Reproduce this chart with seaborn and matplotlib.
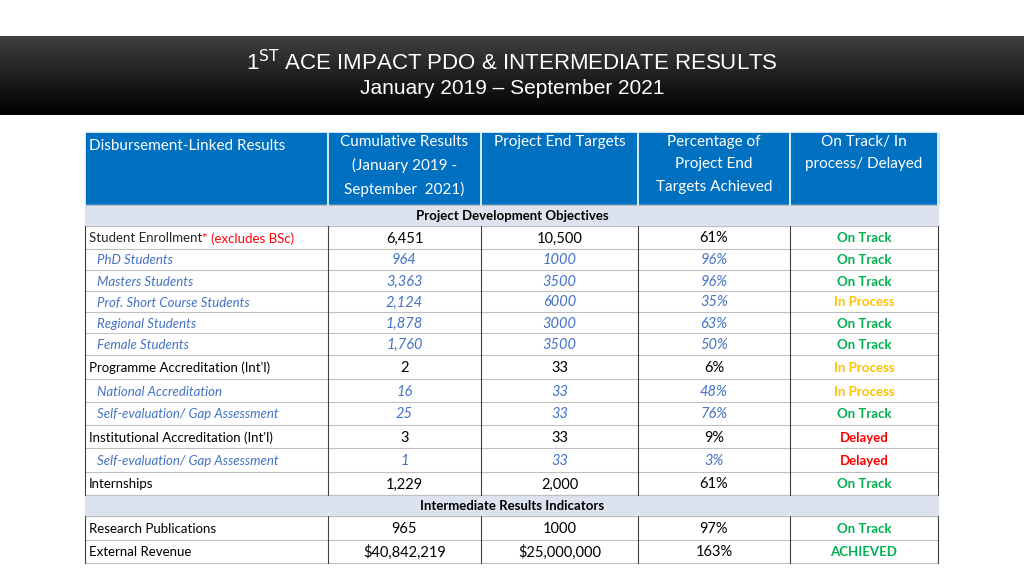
import numpy as np
import matplotlib.pyplot as plt
import seaborn as sns

sns.set_theme(style="white")

# table data
labels = ["Student Enrollment", "PhD Students", "Masters Students", "Prof. Short Course Students",
          "Regional Students", "Female Students", "Programme Accreditation (Int'l)",
          "National Accreditation", "Self-evaluation/ Gap Assessment",
          "Institutional Accreditation (Int'l)", "Self-evaluation/ Gap Assessment",
          "Internships", "Research Publications", "External Revenue"]
sub_row = [False, True, True, True, True, True, False, True, True, False, True, False, False, False]
cumulative = ["6,451", "964", "3,363", "2,124", "1,878", "1,760", "2", "16", "25", "3", "1",
              "1,229", "965", "$40,842,219"]
targets = ["10,500", "1000", "3500", "6000", "3000", "3500", "33", "33", "33", "33", "33",
           "2,000", "1000", "$25,000,000"]
pct = ["61%", "96%", "96%", "35%", "63%", "50%", "6%", "48%", "76%", "9%", "3%", "61%", "97%", "163%"]
status = ["On Track", "On Track", "On Track", "In Process", "On Track", "On Track", "In Process",
          "In Process", "On Track", "Delayed", "Delayed", "On Track", "On Track", "ACHIEVED"]
headers = ["Disbursement-Linked Results", "Cumulative Results\n(January 2019 -\nSeptember  2021)",
           "Project End Targets", "Percentage of\nProject End\nTargets Achieved",
           "On Track/ In\nprocess/ Delayed"]
sections = ["Project Development Objectives", "Intermediate Results Indicators"]

status_col = {"On Track": "#00B050", "In Process": "#FFC000", "Delayed": "#FF0000",
              "ACHIEVED": "#00B050"}
FONT = "Lato"
BLUE = "#0070C0"
SUB = "#4472C4"

fig = plt.figure(figsize=(10.24, 5.76), dpi=100)
ax = fig.add_axes([0, 0, 1, 1])
ax.set_xlim(0, 1024)
ax.set_ylim(576, 0)
ax.axis("off")

# title band with gradient
grad = np.linspace(0.25, 0.0, 100).reshape(-1, 1)
ax.imshow(grad, extent=[0, 1024, 115, 36], cmap="gray", vmin=0, vmax=1, aspect="auto")
ax.text(512, 63, r"1$^{\mathrm{ST}}$ ACE IMPACT PDO & INTERMEDIATE RESULTS", color="white",
        ha="center", va="center", fontsize=16, family="Liberation Sans")
ax.text(512, 88, "January 2019 \u2013 September 2021", color="white", ha="center", va="center",
        fontsize=15, family="Liberation Sans")

cols = [85, 328, 481, 638, 790, 938]
# header
ax.add_patch(plt.Rectangle((85, 133), 853, 72, color=BLUE, zorder=1))
for i, h in enumerate(headers):
    if i == 0:
        ax.text(89, 146, h, color="white", ha="left", va="center", fontsize=11, family=FONT)
    else:
        xc = (cols[i] + cols[i + 1]) / 2
        ax.text(xc, 135, h, color="white", ha="center", va="top", fontsize=11, family=FONT,
                linespacing=1.75)

# row geometry
sec_rows = [(205, 226), (495, 516)]
row_bounds = [(226, 249), (249, 270), (270, 291), (291, 312), (312, 333), (333, 355),
              (355, 379), (379, 402), (402, 425), (425, 448), (448, 472), (472, 495),
              (516, 540), (540, 563)]

for (y0, y1), s in zip(sec_rows, sections):
    ax.add_patch(plt.Rectangle((85, y0), 853, y1 - y0, color="#DCE3EF", zorder=1))
    ax.text(512, (y0 + y1) / 2, s, ha="center", va="center", fontsize=9.5, weight="bold",
            family=FONT, color="black")

for i, (y0, y1) in enumerate(row_bounds):
    yc = (y0 + y1) / 2 + 1
    sub = sub_row[i]
    c = SUB if sub else "black"
    st = "italic" if sub else "normal"
    fs = 9.5
    if i == 0:
        t = ax.text(89, yc, labels[i], ha="left", va="center", fontsize=fs, family=FONT)
        ax.annotate("* (excludes BSc)", xycoords=t, xy=(1, 0.5), va="center", ha="left",
                    color="red", fontsize=fs, family=FONT)
    else:
        ax.text(97 if sub else 89, yc, labels[i], ha="left", va="center", fontsize=fs,
                family=FONT, color=c, style=st)
    for j, v in enumerate([cumulative[i], targets[i], pct[i]]):
        xc = (cols[j + 1] + cols[j + 2]) / 2
        ax.text(xc, yc, v, ha="center", va="center", fontsize=10.5 if not sub else 10.5,
                family=FONT, color=c, style=st)
    ax.text((cols[4] + cols[5]) / 2, yc, status[i], ha="center", va="center", fontsize=9.5,
            weight="bold", family=FONT, color=status_col[status[i]])

# grid lines
for (y0, y1) in row_bounds + sec_rows:
    ax.plot([85, 938], [y1, y1], color="#BFBFBF", lw=0.8, zorder=2)
ax.plot([85, 938], [205, 205], color="#BFBFBF", lw=0.8, zorder=2)
for x in cols:
    ax.plot([x, x], [133, 205], color="white", lw=1.2, zorder=2)
    for (y0, y1) in [(226, 495), (516, 563)]:
        ax.plot([x, x], [y0, y1], color="#404040", lw=0.8, zorder=2)

fig.savefig("out.png", dpi=100, facecolor="white")
